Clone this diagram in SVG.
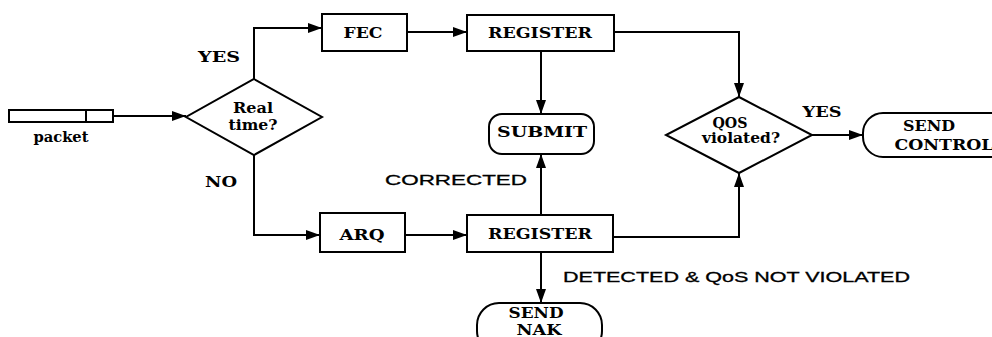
<svg xmlns="http://www.w3.org/2000/svg" width="992" height="337" viewBox="0 0 992 337">
  <defs>
    <marker id="arrow" viewBox="0 0 14 10" refX="14" refY="5" markerWidth="14" markerHeight="10" markerUnits="userSpaceOnUse" orient="auto">
      <path d="M0,0 L14,5 L0,10 Z" fill="#000"/>
    </marker>
    <style>
      .shape { fill: #fff; stroke: #000; stroke-width: 2; }
      .wire { fill: none; stroke: #000; stroke-width: 2; marker-end: url(#arrow); }
      .lbl { font-family: 'DejaVu Serif', 'Liberation Serif', serif; font-weight: 700; font-size: 14px; fill: #000; text-anchor: middle; }
      .cap { font-family: 'Liberation Sans', Arial, sans-serif; font-size: 14px; fill: #000; stroke: #000; stroke-width: 0.3; }
    </style>
  </defs>

  <rect width="992" height="337" fill="#fff"/>

  <!-- connectors -->
  <g id="connectors">
    <path class="wire" d="M113,116 H186"/>
    <path class="wire" d="M254,79 V28 H322"/>
    <path class="wire" d="M407,32 H467"/>
    <path class="wire" d="M541,51 V114"/>
    <path class="wire" d="M614,32 H739 V97"/>
    <path class="wire" d="M254,155 V235 H320"/>
    <path class="wire" d="M405,235 H467"/>
    <path class="wire" d="M541,215 V154"/>
    <path class="wire" d="M613,237 H739 V173"/>
    <path class="wire" d="M812,135 H863"/>
    <path class="wire" d="M541,252 V303"/>
  </g>

  <!-- edge labels -->
  <g id="edge-labels">
    <text class="lbl" x="219" y="62" textLength="42" lengthAdjust="spacingAndGlyphs">YES</text>
    <text class="lbl" x="221" y="187" textLength="32" lengthAdjust="spacingAndGlyphs">NO</text>
    <text class="lbl" x="822" y="117" textLength="39" lengthAdjust="spacingAndGlyphs">YES</text>
    <text class="cap" x="385" y="185" textLength="142" lengthAdjust="spacingAndGlyphs">CORRECTED</text>
    <text class="cap" x="563" y="282" textLength="347" lengthAdjust="spacingAndGlyphs">DETECTED &amp; QoS NOT VIOLATED</text>
  </g>

  <g id="packet">
    <rect class="shape" x="9" y="110" width="104" height="12"/>
    <line x1="86" y1="110" x2="86" y2="122" stroke="#000" stroke-width="2"/>
    <text class="lbl" x="61" y="142" textLength="55" lengthAdjust="spacingAndGlyphs">packet</text>
  </g>

  <g id="realtime">
    <path class="shape" d="M254,79 L322,117 L254,155 L186,117 Z"/>
    <text class="lbl" x="253" y="113" textLength="40" lengthAdjust="spacingAndGlyphs">Real</text>
    <text class="lbl" x="253" y="130" textLength="49" lengthAdjust="spacingAndGlyphs">time?</text>
  </g>

  <g id="fec">
    <rect class="shape" x="322" y="14" width="85" height="37"/>
    <text class="lbl" x="363" y="38" textLength="39" lengthAdjust="spacingAndGlyphs">FEC</text>
  </g>

  <g id="register-fec">
    <rect class="shape" x="467" y="15" width="147" height="36"/>
    <text class="lbl" x="540" y="38" textLength="104" lengthAdjust="spacingAndGlyphs">REGISTER</text>
  </g>

  <g id="submit">
    <rect class="shape" x="489" y="114" width="105" height="40" rx="13" ry="13"/>
    <text class="lbl" x="542" y="137" textLength="90" lengthAdjust="spacingAndGlyphs">SUBMIT</text>
  </g>

  <g id="arq">
    <rect class="shape" x="320" y="213" width="85" height="39"/>
    <text class="lbl" x="362" y="240" textLength="45" lengthAdjust="spacingAndGlyphs">ARQ</text>
  </g>

  <g id="register-arq">
    <rect class="shape" x="467" y="215" width="146" height="37"/>
    <text class="lbl" x="540" y="239" textLength="104" lengthAdjust="spacingAndGlyphs">REGISTER</text>
  </g>

  <g id="qos">
    <path class="shape" d="M739,97 L812,135 L739,173 L666,135 Z"/>
    <text class="lbl" x="730" y="128" textLength="35" lengthAdjust="spacingAndGlyphs">QOS</text>
    <text class="lbl" x="741" y="143" textLength="78" lengthAdjust="spacingAndGlyphs">violated?</text>
  </g>

  <g id="send-control">
    <rect class="shape" x="863" y="113" width="150" height="44" rx="20" ry="20"/>
    <text class="lbl" x="929" y="131" textLength="52" lengthAdjust="spacingAndGlyphs">SEND</text>
    <text class="lbl" x="944" y="150" textLength="99" lengthAdjust="spacingAndGlyphs">CONTROL</text>
  </g>

  <g id="send-nak">
    <rect class="shape" x="477" y="303" width="125" height="50" rx="22" ry="22"/>
    <text class="lbl" x="536" y="318" textLength="55" lengthAdjust="spacingAndGlyphs">SEND</text>
    <text class="lbl" x="539" y="335" textLength="45" lengthAdjust="spacingAndGlyphs">NAK</text>
  </g>
</svg>
